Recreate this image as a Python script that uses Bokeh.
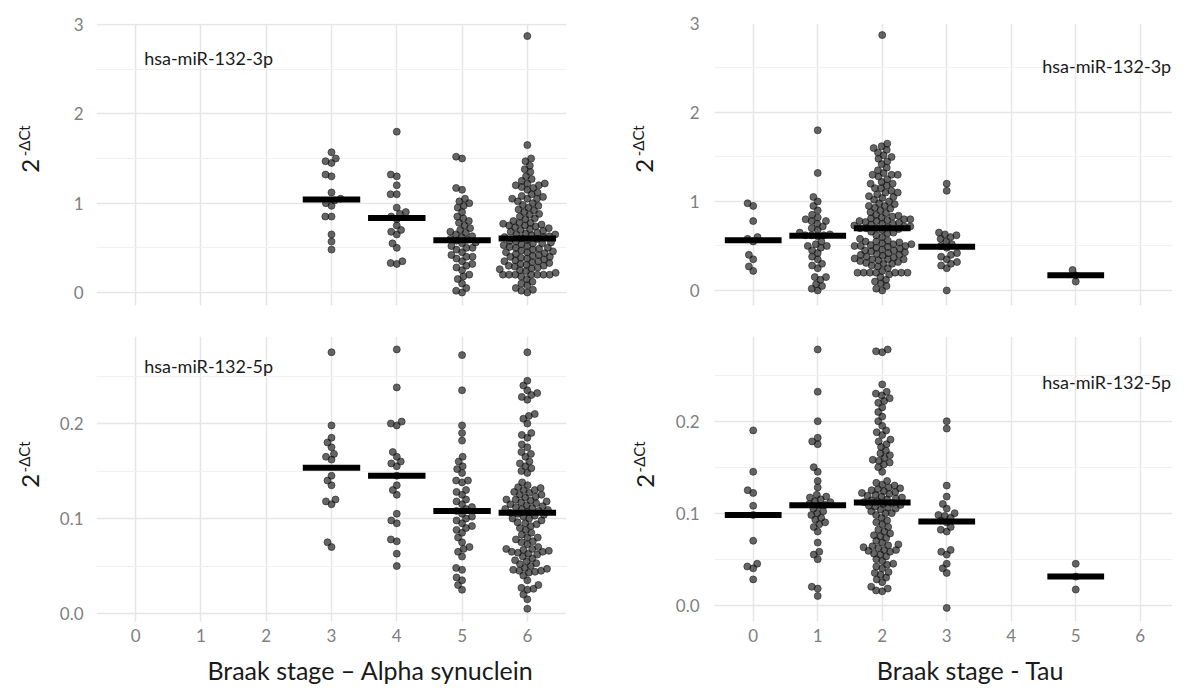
import numpy as np
from bokeh.plotting import figure
from bokeh.models import FixedTicker, Label, PrintfTickFormatter, Range1d
from bokeh.core.properties import value
from bokeh.layouts import column, row
from bokeh.embed import file_html
from bokeh.resources import INLINE

stages = [0, 1, 2, 3, 4, 5, 6]
x_title_alpha = "Braak stage \u2013 Alpha synuclein"
x_title_tau = "Braak stage - Tau"
label_3p = "hsa-miR-132-3p"
label_5p = "hsa-miR-132-5p"
y_base = "2"
y_sup = "-\u0394Ct"

# ---- Alpha synuclein, hsa-miR-132-3p ----
as3p_s3 = [1.57, 1.50, 1.47, 1.45, 1.32, 1.30, 1.12, 1.05, 1.03, 1.00, 0.97, 0.85, 0.85, 0.65, 0.57, 0.48]
as3p_s4 = [1.80, 1.32, 1.30, 1.20, 1.10, 1.10, 0.95, 0.90, 0.88, 0.85, 0.82, 0.75, 0.70, 0.68, 0.65, 0.55,
           0.50, 0.35, 0.33, 0.32]
as3p_s5 = [1.52, 1.50, 1.17, 1.15, 1.05, 1.02, 1.00, 0.97, 0.95, 0.90, 0.85, 0.83, 0.80, 0.78, 0.75, 0.72,
           0.70, 0.68, 0.67, 0.65, 0.63, 0.62, 0.60, 0.59, 0.58, 0.56, 0.55, 0.52, 0.50, 0.50, 0.48, 0.45,
           0.42, 0.40, 0.40, 0.38, 0.35, 0.32, 0.30, 0.28, 0.25, 0.20, 0.18, 0.15, 0.10, 0.05, 0.02, 0.00]
as3p_s6 = [2.87, 1.65, 1.50, 1.47, 1.42, 1.38, 1.35, 1.30, 1.27, 1.25, 1.22, 1.22, 1.20, 1.20, 1.18, 1.17,
           1.15, 1.12, 1.10, 1.08, 1.07, 1.05, 1.05, 1.05, 1.02, 1.00, 0.98, 0.97, 0.95, 0.93, 0.92, 0.90,
           0.88, 0.87, 0.85, 0.83, 0.82, 0.80, 0.78, 0.78, 0.77, 0.76, 0.75, 0.75, 0.74, 0.73, 0.72, 0.71,
           0.70, 0.69, 0.68, 0.67, 0.66, 0.65, 0.65, 0.64, 0.63, 0.62, 0.62, 0.61,
           0.60, 0.59, 0.58, 0.57, 0.56, 0.55, 0.55, 0.54, 0.53, 0.52, 0.51, 0.50, 0.50, 0.49, 0.48, 0.47,
           0.46, 0.45, 0.45, 0.44, 0.43, 0.42, 0.41, 0.40, 0.40, 0.39, 0.38, 0.37, 0.36, 0.35, 0.35, 0.34,
           0.33, 0.32, 0.31, 0.30, 0.30, 0.29, 0.28, 0.27, 0.26, 0.25, 0.24, 0.22, 0.20, 0.20, 0.20, 0.20,
           0.20, 0.20, 0.20, 0.18, 0.15, 0.12, 0.10, 0.08, 0.05, 0.03, 0.02, 0.00]

# ---- Tau, hsa-miR-132-3p ----
tau3p_s0 = [0.98, 0.95, 0.78, 0.60, 0.58, 0.55, 0.40, 0.35, 0.27, 0.22]
tau3p_s1 = [1.80, 1.32, 1.05, 1.00, 0.95, 0.90, 0.85, 0.82, 0.80, 0.78, 0.78, 0.75, 0.72, 0.70, 0.68, 0.65,
            0.63, 0.62, 0.62, 0.62, 0.61, 0.55, 0.52, 0.50, 0.50, 0.48, 0.45, 0.42, 0.38, 0.35, 0.30, 0.28,
            0.25, 0.15, 0.15, 0.12, 0.07, 0.05, 0.02, 0.00]
tau3p_s2 = [2.87, 1.65, 1.62, 1.60, 1.58, 1.55, 1.52, 1.50, 1.48, 1.45, 1.42, 1.38, 1.35, 1.32, 1.30, 1.30,
            1.30, 1.28, 1.25, 1.22, 1.20, 1.20, 1.18, 1.15, 1.15, 1.12, 1.10, 1.10, 1.08, 1.06, 1.05, 1.04,
            1.02, 1.00, 0.98, 0.97, 0.95, 0.95, 0.93, 0.92, 0.90, 0.88, 0.87, 0.85, 0.84, 0.83, 0.82, 0.81,
            0.80, 0.80, 0.79, 0.78, 0.78, 0.77, 0.76, 0.75, 0.75, 0.74, 0.73, 0.72, 0.72, 0.71, 0.70, 0.70,
            0.70, 0.69, 0.68, 0.66, 0.65, 0.64, 0.62, 0.60, 0.58, 0.56, 0.55, 0.55, 0.54, 0.53, 0.52, 0.52,
            0.51, 0.50, 0.50, 0.50, 0.49, 0.48, 0.47, 0.46, 0.45, 0.45, 0.44, 0.43, 0.42, 0.41, 0.40, 0.40,
            0.39, 0.38, 0.37, 0.36, 0.35, 0.35, 0.35, 0.34, 0.33, 0.32, 0.31, 0.30, 0.30, 0.28, 0.27, 0.25,
            0.22, 0.20, 0.20, 0.20, 0.20, 0.20, 0.20, 0.20, 0.18, 0.15, 0.12, 0.10, 0.08, 0.05,
            0.02, 0.00]
tau3p_s3 = [1.20, 1.12, 0.65, 0.63, 0.62, 0.60, 0.58, 0.55, 0.52, 0.50, 0.48, 0.42, 0.40, 0.38, 0.35, 0.32,
            0.30, 0.28, 0.25, 0.00]
tau3p_s5 = [0.23, 0.17, 0.10]

# ---- Alpha synuclein, hsa-miR-132-5p ----
as5p_s3 = [0.275, 0.198, 0.185, 0.180, 0.175, 0.168, 0.165, 0.162, 0.145, 0.140, 0.135, 0.120, 0.118, 0.115,
           0.075, 0.070]
as5p_s4 = [0.278, 0.238, 0.202, 0.200, 0.198, 0.170, 0.165, 0.160, 0.158, 0.155, 0.145, 0.135, 0.130, 0.125,
           0.105, 0.098, 0.095, 0.078, 0.076, 0.063, 0.050]
as5p_s5 = [0.272, 0.235, 0.198, 0.190, 0.182, 0.165, 0.160, 0.155, 0.152, 0.148, 0.140, 0.140, 0.138, 0.130,
           0.128, 0.125, 0.120, 0.118, 0.115, 0.112, 0.110, 0.108, 0.105, 0.102, 0.100, 0.098, 0.095, 0.092,
           0.090, 0.088, 0.085, 0.080, 0.075, 0.070, 0.068, 0.065, 0.060, 0.048, 0.046, 0.038, 0.035, 0.030,
           0.025]
as5p_s6 = [0.275, 0.245, 0.240, 0.235, 0.232, 0.230, 0.228, 0.225, 0.210, 0.208, 0.205, 0.200, 0.190, 0.188,
           0.185, 0.178, 0.175, 0.170, 0.168, 0.165, 0.160, 0.158, 0.155, 0.153, 0.150, 0.148, 0.138, 0.135,
           0.133, 0.132, 0.130, 0.130, 0.128, 0.127, 0.125, 0.125, 0.123, 0.122, 0.120, 0.120, 0.119, 0.118,
           0.117, 0.116, 0.115, 0.114, 0.113, 0.112, 0.111, 0.110, 0.110, 0.109, 0.108, 0.107,
           0.106, 0.105, 0.104, 0.103, 0.102, 0.100, 0.100, 0.098, 0.096, 0.095, 0.094, 0.092, 0.090, 0.088,
           0.085, 0.083, 0.080, 0.080, 0.078, 0.076, 0.075, 0.073, 0.070, 0.068, 0.068, 0.067, 0.066, 0.065,
           0.065, 0.064, 0.063, 0.062, 0.060, 0.058, 0.056, 0.055, 0.053, 0.052, 0.050, 0.048, 0.047, 0.046,
           0.045, 0.045, 0.044, 0.043, 0.040, 0.035, 0.030, 0.027, 0.026, 0.025, 0.020, 0.015, 0.005]

# ---- Tau, hsa-miR-132-5p ----
tau5p_s0 = [0.190, 0.145, 0.125, 0.122, 0.108, 0.098, 0.070, 0.045, 0.042, 0.040, 0.028]
tau5p_s1 = [0.278, 0.232, 0.200, 0.182, 0.178, 0.175, 0.150, 0.145, 0.135, 0.128, 0.120, 0.118, 0.117, 0.115,
            0.113, 0.112, 0.110, 0.109, 0.108, 0.105, 0.102, 0.100, 0.098, 0.095, 0.093, 0.090, 0.088, 0.085,
            0.080, 0.068, 0.058, 0.055, 0.050, 0.020, 0.018, 0.010]
tau5p_s2 = [0.278, 0.276, 0.275, 0.240, 0.232, 0.230, 0.228, 0.225, 0.222, 0.220, 0.215, 0.210, 0.205, 0.200,
            0.195, 0.190, 0.188, 0.185, 0.180, 0.178, 0.175, 0.172, 0.168, 0.165, 0.163, 0.160, 0.158, 0.157,
            0.155, 0.153, 0.150, 0.145, 0.135, 0.133, 0.131, 0.130, 0.128, 0.127, 0.126, 0.125, 0.124, 0.123,
            0.122, 0.121, 0.120, 0.119, 0.118, 0.117, 0.116, 0.115, 0.114, 0.113, 0.112,
            0.111, 0.110, 0.109, 0.108, 0.107, 0.106, 0.105, 0.104, 0.102, 0.100, 0.100, 0.098, 0.095, 0.092,
            0.090, 0.088, 0.085, 0.082, 0.080, 0.078, 0.076, 0.075, 0.073, 0.070, 0.068, 0.066, 0.065, 0.064,
            0.063, 0.062, 0.060, 0.060, 0.059, 0.058, 0.056, 0.055, 0.053, 0.050, 0.048, 0.045, 0.044, 0.042,
            0.040, 0.036, 0.035, 0.033, 0.030, 0.028, 0.025, 0.020, 0.018, 0.016, 0.015]
tau5p_s3 = [0.200, 0.192, 0.130, 0.118, 0.110, 0.105, 0.100, 0.098, 0.097, 0.095, 0.092, 0.090, 0.085, 0.082,
            0.080, 0.060, 0.058, 0.055, 0.045, 0.040, 0.035, -0.003]
tau5p_s5 = [0.045, 0.031, 0.017]

FONT = "Lato"
TICK_COLOR = "#808080"
TEXT_COLOR = "#1a1a1a"
PT = 7      # point diameter px
GAP = 6.2   # swarm spacing px


def swarm(vals, ypx, xpx, d):
    vals = np.asarray(vals, dtype=float)
    order = np.argsort(vals, kind="stable")
    placed = []
    offs = np.zeros(len(vals))
    for i in order:
        y = vals[i] * ypx
        cands = [0.0]
        forb = []
        for (px, py) in placed:
            dy = abs(py - y)
            if dy < d:
                w = (d * d - dy * dy) ** 0.5
                forb.append((px - w, px + w))
                cands += [px - w, px + w]
        cands.sort(key=lambda c: (abs(c), c))
        chosen = 0.0
        for c in cands:
            if all(not (a + 1e-6 < c < b - 1e-6) for a, b in forb):
                chosen = c
                break
        placed.append((chosen, y))
        offs[i] = chosen / xpx
    return offs


def make_panel(width, height, borders, xr, yr, yticks, yminor, fmt, show_x, groups, ystand):
    left, right, top, bottom = borders
    p = figure(width=width, height=height, x_range=Range1d(*xr), y_range=Range1d(*yr),
               output_backend="svg", toolbar_location=None,
               min_border_left=left, min_border_right=right,
               min_border_top=top, min_border_bottom=bottom)
    p.outline_line_color = None
    xt = FixedTicker(ticks=stages, minor_ticks=[])
    yt = FixedTicker(ticks=yticks, minor_ticks=yminor)
    p.xaxis.ticker = xt
    p.yaxis.ticker = yt
    p.xgrid.ticker = xt
    p.ygrid.ticker = yt
    p.yaxis.formatter = PrintfTickFormatter(format=fmt)
    for ax in (p.xaxis, p.yaxis):
        ax.axis_line_color = None
        ax.major_tick_line_color = None
        ax.minor_tick_line_color = None
        ax.major_tick_out = 0
        ax.major_label_text_font = FONT
        ax.major_label_text_font_size = "17px"
        ax.major_label_text_color = TICK_COLOR
    p.yaxis.major_label_standoff = ystand
    p.xaxis.major_label_standoff = 7
    p.xgrid.grid_line_color = "#e6e6e6"
    p.xgrid.grid_line_width = 1.5
    p.ygrid.grid_line_color = "#e6e6e6"
    p.ygrid.grid_line_width = 1.5
    p.ygrid.minor_grid_line_color = "#f0f0f0"
    p.ygrid.minor_grid_line_width = 1.2
    if not show_x:
        p.xaxis.visible = False

    frame_w = width - left - right
    frame_h = height - top - bottom
    xpx = frame_w / (xr[1] - xr[0])
    ypx = frame_h / (yr[1] - yr[0])
    for stage, vals in groups:
        offs = swarm(vals, ypx, xpx, GAP)
        xs = [stage + o for o in offs]
        p.scatter(xs, vals, size=PT, fill_color="black", fill_alpha=0.6,
                  line_color="#222222", line_alpha=0.8, line_width=0.8)
    for stage, vals in groups:
        med = float(np.median(vals))
        p.segment(x0=[stage - 0.44], x1=[stage + 0.44], y0=[med], y1=[med],
                  line_color="black", line_width=6)
    return p


def text_fig(width, height):
    p = figure(width=width, height=height, x_range=Range1d(0, width), y_range=Range1d(0, height),
               output_backend="svg", toolbar_location=None, x_axis_type=None, y_axis_type=None,
               min_border=0)
    p.outline_line_color = None
    p.xgrid.visible = False
    p.ygrid.visible = False
    return p


def ylabel_fig(width, height, two_xy, sup_xy):
    p = text_fig(width, height)
    p.text(x=[two_xy[0]], y=[two_xy[1]], text=[y_base], angle=np.pi / 2,
           text_align="center", text_baseline="middle", text_font=value(FONT),
           text_font_size="24px", text_color=TEXT_COLOR)
    p.text(x=[sup_xy[0]], y=[sup_xy[1]], text=[y_sup], angle=np.pi / 2,
           text_align="center", text_baseline="middle", text_font=value(FONT),
           text_font_size="15px", text_color=TEXT_COLOR)
    return p


def add_panel_label(p, x, y, text, align):
    p.add_layout(Label(x=x, y=y, text=text, text_align=align, text_baseline="middle",
                       text_font=FONT, text_font_size="18px", text_color=TEXT_COLOR))


XR_L = (-0.6, 6.6)
XR_R = (-0.6, 6.5)

tl = make_panel(554, 315, (44, 40, 23, 10), XR_L, (-0.1455, 3.011), [0, 1, 2, 3], [0.5, 1.5, 2.5], "%d",
                False, [(3, as3p_s3), (4, as3p_s4), (5, as3p_s5), (6, as3p_s6)], 9)
tr = make_panel(510, 315, (52, 0, 23, 10), XR_R, (-0.169, 3.0), [0, 1, 2, 3], [0.5, 1.5, 2.5], "%d",
                False, [(0, tau3p_s0), (1, tau3p_s1), (2, tau3p_s2), (3, tau3p_s3), (5, tau3p_s5)], 11)
bl = make_panel(554, 336, (44, 40, 21, 30), XR_L, (-0.0084, 0.2916), [0, 0.1, 0.2], [0.05, 0.15, 0.25],
                "%.1f", True, [(3, as5p_s3), (4, as5p_s4), (5, as5p_s5), (6, as5p_s6)], 9)
br = make_panel(510, 336, (52, 0, 10, 30), XR_R, (-0.0178, 0.2921), [0, 0.1, 0.2], [0.05, 0.15, 0.25],
                "%.1f", True, [(0, tau5p_s0), (1, tau5p_s1), (2, tau5p_s2), (3, tau5p_s3), (5, tau5p_s5)], 11)

add_panel_label(tl, 0.13, 2.62, label_3p, "left")
add_panel_label(tr, 6.48, 2.52, label_3p, "right")
add_panel_label(bl, 0.13, 0.261, label_5p, "left")
add_panel_label(br, 6.48, 0.243, label_5p, "right")

yl_tl = ylabel_fig(52, 315, (30, 156), (23, 184))
yl_tr = ylabel_fig(56, 315, (38, 156), (31, 184))
yl_bl = ylabel_fig(52, 336, (30, 166), (23, 194))
yl_br = ylabel_fig(56, 336, (39, 166), (32, 194))

titles = text_fig(1172, 33)
titles.text(x=[370, 970], y=[15, 15], text=[x_title_alpha, x_title_tau], text_align="center",
            text_baseline="middle", text_font=value(FONT), text_font_size="25px", text_color=TEXT_COLOR)

layout = column(row(yl_tl, tl, yl_tr, tr), row(yl_bl, bl, yl_br, br), titles)
open("out.html", "w").write(file_html(layout, INLINE))
